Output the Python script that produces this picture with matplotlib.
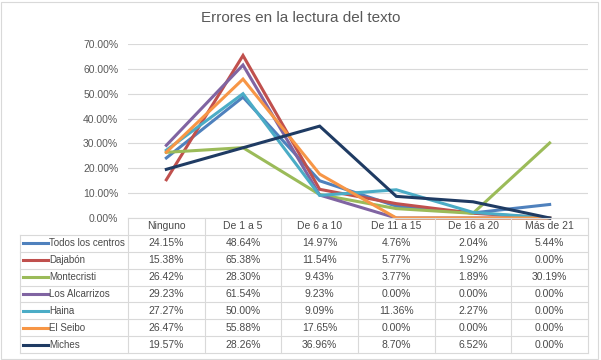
import matplotlib.pyplot as plt
from matplotlib.lines import Line2D
from matplotlib.patches import Rectangle
from matplotlib.ticker import PercentFormatter

plt.rcParams['font.family'] = ['Liberation Sans', 'DejaVu Sans']

categories = ["Ninguno", "De 1 a 5", "De 6 a 10", "De 11 a 15", "De 16 a 20", "Más de 21"]
series_names = ["Todos los centros", "Dajabón", "Montecristi", "Los Alcarrizos",
                "Haina", "El Seibo", "Miches"]
todos = [24.15, 48.64, 14.97, 4.76, 2.04, 5.44]
dajabon = [15.38, 65.38, 11.54, 5.77, 1.92, 0.00]
montecristi = [26.42, 28.30, 9.43, 3.77, 1.89, 30.19]
alcarrizos = [29.23, 61.54, 9.23, 0.00, 0.00, 0.00]
haina = [27.27, 50.00, 9.09, 11.36, 2.27, 0.00]
seibo = [26.47, 55.88, 17.65, 0.00, 0.00, 0.00]
miches = [19.57, 28.26, 36.96, 8.70, 6.52, 0.00]
series = [todos, dajabon, montecristi, alcarrizos, haina, seibo, miches]
colors = ["#4F81BD", "#C0504D", "#9BBB59", "#8064A2", "#4BACC6", "#F79646", "#1F3B63"]

W, H = 601, 360
grid_c = "#D9D9D9"
txt_c = "#4A4A4A"

fig = plt.figure(figsize=(W / 100, H / 100), dpi=100)

def fx(px):
    return px / W

def fy(py):
    return 1 - py / H

# plot area
x0, x1 = 128, 588
y_top, y_bot = 44, 218
ax = fig.add_axes([fx(x0), fy(y_bot), fx(x1 - x0), (y_bot - y_top) / H])
xs = list(range(len(categories)))
for vals, c in zip(series, colors):
    ax.plot(xs, vals, color=c, lw=2.2, solid_joinstyle='miter', clip_on=False)
ax.set_xlim(-0.5, len(categories) - 0.5)
ax.set_ylim(0, 70)
ax.set_yticks(range(0, 71, 10))
ax.yaxis.set_major_formatter(PercentFormatter(decimals=2))
ax.tick_params(axis='y', length=0, pad=7, labelsize=7.5, labelcolor="#595959")
ax.set_xticks([])
ax.grid(axis='y', color=grid_c, lw=0.8)
ax.set_axisbelow(True)
for s in ["top", "right", "left"]:
    ax.spines[s].set_visible(False)
ax.spines["bottom"].set_color(grid_c)

fig.text(0.5, fy(18), "Errores en la lectura del texto", ha='center', va='center',
         fontsize=11, color="#595959")

# data table
tx0 = 20
col_w = (x1 - x0) / len(categories)
row_h = (353 - 218) / 8

def line(xa, ya, xb, yb):
    fig.add_artist(Line2D([fx(xa), fx(xb)], [fy(ya), fy(yb)], color=grid_c, lw=0.8))

for r in range(1, 9):
    line(tx0, y_bot + r * row_h, x1, y_bot + r * row_h)
line(tx0, y_bot + row_h, tx0, y_bot + 8 * row_h)
for c in range(len(categories) + 1):
    xc = x0 + c * col_w
    line(xc, y_bot, xc, y_bot + 8 * row_h)

for j, cat in enumerate(categories):
    fig.text(fx(x0 + (j + 0.5) * col_w), fy(y_bot + 0.5 * row_h), cat,
             ha='center', va='center', fontsize=7.5, color=txt_c)

for i, (name, vals, c) in enumerate(zip(series_names, series, colors)):
    yc = y_bot + (i + 1.5) * row_h
    fig.add_artist(Line2D([fx(23), fx(48)], [fy(yc), fy(yc)], color=c, lw=2.2))
    fig.text(fx(49), fy(yc), name, ha='left', va='center', fontsize=7, color=txt_c)
    for j, v in enumerate(vals):
        fig.text(fx(x0 + (j + 0.5) * col_w), fy(yc), "%.2f%%" % v,
                 ha='center', va='center', fontsize=7.5, color=txt_c)

fig.add_artist(Rectangle((fx(1), fy(359)), fx(597), (357) / H, fill=False,
                         edgecolor=grid_c, lw=0.8))

fig.savefig("out.png", dpi=100)
